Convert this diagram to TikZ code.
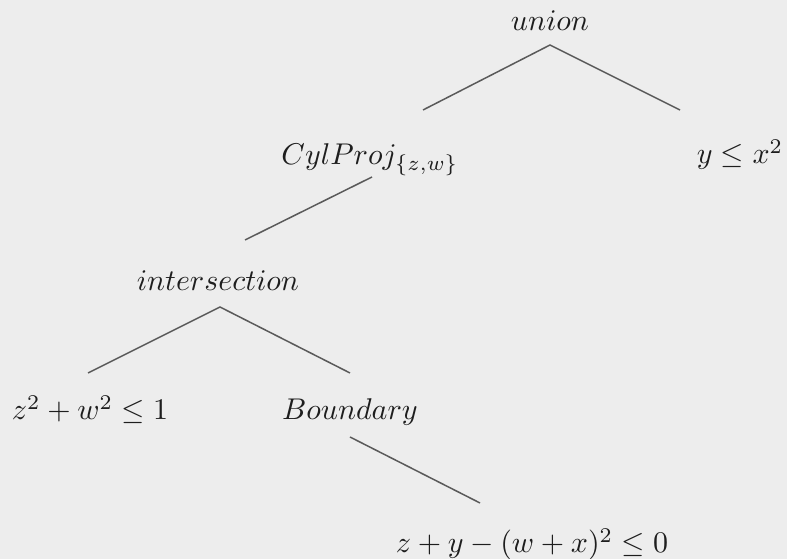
\documentclass[tikz,border=0pt]{standalone}
\usepackage{amsmath}
\definecolor{bgc}{HTML}{EDEDED}
\definecolor{linec}{HTML}{5A5A5A}
\definecolor{txtc}{HTML}{1E1E1E}
\begin{document}
\begin{tikzpicture}[x=0.33333pt,y=-0.33333pt,
  lbl/.style={inner sep=0pt,anchor=base,text=txtc},
  edge/.style={draw=linec,line width=0.5pt}]
\fill[bgc] (0,0) rectangle (787,559);
\useasboundingbox (0,0) rectangle (787,559);
\node[lbl] (union) at (550,31) {$union$};
\node[lbl] (cyl) at (370,165) {$CylProj_{\{z,w\}}$};
\node[lbl] (yx) at (740,164) {$y \leq x^2$};
\node[lbl] (inter) at (218,291) {$intersection$};
\node[lbl] (zw) at (90,420) {$z^2 + w^2 \leq 1$};
\node[lbl] (bnd) at (350,420) {$Boundary$};
\node[lbl] (form) at (532,553) {$z + y - (w + x)^2 \leq 0$};
\coordinate (a1) at (550,45);
\coordinate (a2) at (220,307);
\draw[edge] (423,110) -- (a1) -- (680,110);
\draw[edge] (372,177) -- (245,240);
\draw[edge] (88,373) -- (a2) -- (350,373);
\draw[edge] (350,437) -- (480,503);
\end{tikzpicture}
\end{document}
